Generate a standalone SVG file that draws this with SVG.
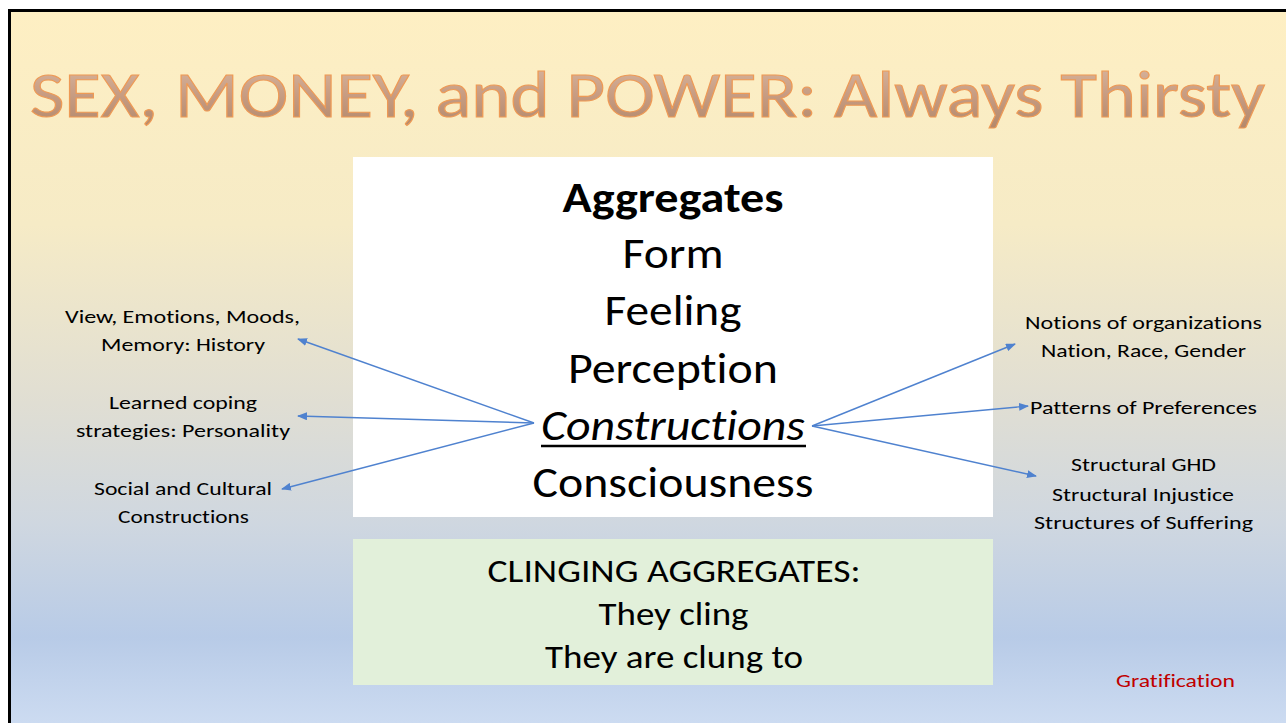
<svg xmlns="http://www.w3.org/2000/svg" width="1286" height="723" viewBox="0 0 1286 723">
  <defs>
    <linearGradient id="bg" x1="0" y1="0" x2="0" y2="1">
      <stop offset="0" stop-color="#FEEFC3"/>
      <stop offset="0.3" stop-color="#F6EBC6"/>
      <stop offset="0.55" stop-color="#E0DED3"/>
      <stop offset="0.72" stop-color="#CFD7E0"/>
      <stop offset="0.88" stop-color="#B8CBE7"/>
      <stop offset="1" stop-color="#CCDBF1"/>
    </linearGradient>
    <linearGradient id="titleFill" x1="0" y1="0" x2="0" y2="1">
      <stop offset="0" stop-color="#DDBCA6"/>
      <stop offset="0.5" stop-color="#C79C82"/>
      <stop offset="1" stop-color="#AE8466"/>
    </linearGradient>
    <marker id="arrow" markerUnits="userSpaceOnUse" markerWidth="10" markerHeight="8" refX="9" refY="4" orient="auto">
      <path d="M0,0 L10,4 L0,8 z" fill="#4F82CF"/>
    </marker>
    <style>
      .t { font-family: Carlito, Lato, "Open Sans", sans-serif; fill: #000; text-anchor: middle; font-variant-ligatures: none; font-feature-settings: "liga" 0, "dlig" 0; }
      .lab { font-size: 18px; }
      .main { font-size: 43px; }
      .cling { font-size: 32.5px; }
      .conn line { stroke: #4F82CF; stroke-width: 1.4; marker-end: url(#arrow); }
    </style>
  </defs>

  <rect x="0" y="0" width="1286" height="723" fill="#FFFFFF"/>
  <rect x="9" y="11" width="1277" height="712" fill="url(#bg)"/>
  <path d="M9.5,723 V10.5 H1286" fill="none" stroke="#000" stroke-width="3"/>

  <g id="title">
    <text x="647.5" y="117" class="t" font-size="65.5" textLength="1235" lengthAdjust="spacingAndGlyphs" stroke="#EE9A55" stroke-width="1.1" style="fill:url(#titleFill)">SEX, MONEY, and POWER: Always Thirsty</text>
  </g>

  <g id="aggregates-box">
    <rect x="353" y="157" width="640" height="360" fill="#FFFFFF"/>
    <text x="673" y="212" class="t main" font-weight="bold" textLength="221" lengthAdjust="spacingAndGlyphs">Aggregates</text>
    <text x="673" y="268" class="t main" textLength="101" lengthAdjust="spacingAndGlyphs">Form</text>
    <text x="673" y="325" class="t main" textLength="137" lengthAdjust="spacingAndGlyphs">Feeling</text>
    <text x="673" y="383" class="t main" textLength="210" lengthAdjust="spacingAndGlyphs">Perception</text>
    <text x="673" y="440" class="t main" font-style="italic" textLength="264" lengthAdjust="spacingAndGlyphs">Constructions</text>
    <line x1="541" y1="446" x2="806" y2="446" stroke="#000" stroke-width="2.5"/>
    <text x="673" y="497" class="t main" textLength="281" lengthAdjust="spacingAndGlyphs">Consciousness</text>
  </g>

  <g id="clinging-box">
    <rect x="353" y="539" width="640" height="146" fill="#E2F0DA"/>
    <text x="674" y="582" class="t cling" textLength="373" lengthAdjust="spacingAndGlyphs">CLINGING AGGREGATES:</text>
    <text x="673.5" y="625" class="t cling" textLength="150" lengthAdjust="spacingAndGlyphs">They cling</text>
    <text x="674" y="668" class="t cling" textLength="258" lengthAdjust="spacingAndGlyphs">They are clung to</text>
  </g>

  <g id="left-history">
    <text x="182.5" y="323" class="t lab" textLength="235" lengthAdjust="spacingAndGlyphs">View, Emotions, Moods,</text>
    <text x="183" y="351" class="t lab" textLength="164" lengthAdjust="spacingAndGlyphs">Memory: History</text>
  </g>
  <g id="left-personality">
    <text x="183" y="409" class="t lab" textLength="148" lengthAdjust="spacingAndGlyphs">Learned coping</text>
    <text x="183" y="437" class="t lab" textLength="214" lengthAdjust="spacingAndGlyphs">strategies: Personality</text>
  </g>
  <g id="left-social">
    <text x="183" y="495" class="t lab" textLength="178" lengthAdjust="spacingAndGlyphs">Social and Cultural</text>
    <text x="183.5" y="523" class="t lab" textLength="131" lengthAdjust="spacingAndGlyphs">Constructions</text>
  </g>

  <g id="right-organizations">
    <text x="1143.5" y="329" class="t lab" textLength="237" lengthAdjust="spacingAndGlyphs">Notions of organizations</text>
    <text x="1143.5" y="357" class="t lab" textLength="205" lengthAdjust="spacingAndGlyphs">Nation, Race, Gender</text>
  </g>
  <g id="right-preferences">
    <text x="1143.5" y="414" class="t lab" textLength="227" lengthAdjust="spacingAndGlyphs">Patterns of Preferences</text>
  </g>
  <g id="right-structural">
    <text x="1143.5" y="471" class="t lab" textLength="145" lengthAdjust="spacingAndGlyphs">Structural GHD</text>
    <text x="1143" y="501" class="t lab" textLength="182" lengthAdjust="spacingAndGlyphs">Structural Injustice</text>
    <text x="1143.5" y="529" class="t lab" textLength="219" lengthAdjust="spacingAndGlyphs">Structures of Suffering</text>
  </g>

  <g id="gratification">
    <text x="1175.5" y="687" class="t lab" style="fill:#C00000" textLength="119" lengthAdjust="spacingAndGlyphs">Gratification</text>
  </g>

  <g id="connectors" class="conn">
    <line x1="534" y1="423" x2="298" y2="339"/>
    <line x1="534" y1="423" x2="298" y2="416"/>
    <line x1="534" y1="423" x2="282" y2="489"/>
    <line x1="812" y1="426" x2="1015" y2="344"/>
    <line x1="812" y1="426" x2="1028" y2="406"/>
    <line x1="812" y1="426" x2="1036" y2="476"/>
  </g>
</svg>
